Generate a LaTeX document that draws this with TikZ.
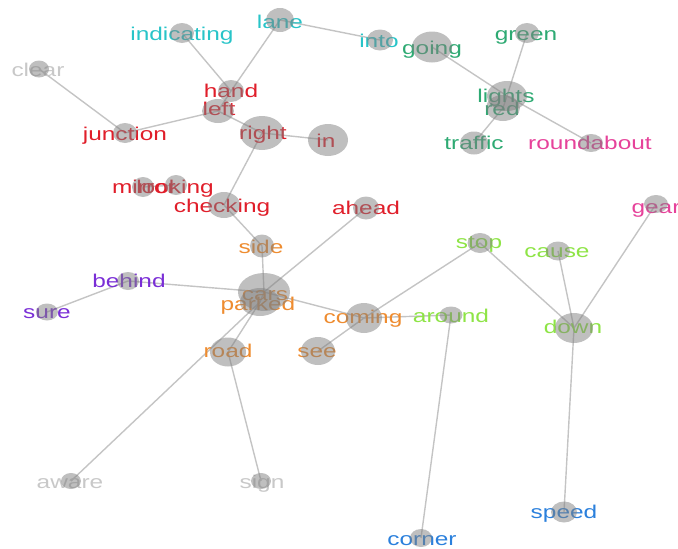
\documentclass[tikz,border=0pt]{standalone}
\usepackage{fontspec}
\setmainfont{Liberation Sans}[FakeStretch=1.32]
\usetikzlibrary{shapes.geometric}
\pgfdeclarelayer{edgelayer}
\pgfsetlayers{edgelayer,main}
\definecolor{cCyan}{RGB}{40,196,200}
\definecolor{cGreen}{RGB}{46,170,115}
\definecolor{cRed}{RGB}{224,30,42}
\definecolor{cOrange}{RGB}{238,140,48}
\definecolor{cPurple}{RGB}{122,46,214}
\definecolor{cLime}{RGB}{142,228,70}
\definecolor{cPink}{RGB}{230,66,154}
\definecolor{cBlue}{RGB}{43,128,220}
\definecolor{cGrayText}{RGB}{200,200,200}
\definecolor{edgegray}{RGB}{196,196,196}
\definecolor{blobgray}{RGB}{128,128,128}
\tikzset{
  lbl/.style={anchor=base, inner sep=0pt, font=\fontsize{18.5}{20}\selectfont},
  blob/.style={ellipse, fill=blobgray, fill opacity=0.5, draw=none, inner sep=0pt},
  edge/.style={draw=edgegray, line width=1.4pt},
}
\newcommand{\blobnode}[5]{\node[blob, minimum width=#4, minimum height=#5] (#1) at (#2,#3) {};}
\begin{document}
\begin{tikzpicture}[x=1pt,y=-1pt]
\useasboundingbox (0,0) rectangle (678,549);
% labels
\node[lbl,text=cGrayText] (t-clear) at (38,76) {clear};
\node[lbl,text=cCyan] (t-indicating) at (182,40.7) {indicating};
\node[lbl,text=cCyan] (t-lane) at (280,28) {lane};
\node[lbl,text=cCyan] (t-into) at (379,47) {into};
\node[lbl,text=cGreen] (t-going) at (432,54) {going};
\node[lbl,text=cGreen] (t-green) at (526,40) {green};
\node[lbl,text=cGreen] (t-red) at (502,115) {red};
\node[lbl,text=cGreen] (t-lights) at (506,102) {lights};
\node[lbl,text=cGreen] (t-traffic) at (474,149) {traffic};
\node[lbl,text=cPink] (t-roundabout) at (590,149) {roundabout};
\node[lbl,text=cRed] (t-left) at (219,115) {left};
\node[lbl,text=cRed] (t-hand) at (231,97) {hand};
\node[lbl,text=cRed] (t-junction) at (125,140) {junction};
\node[lbl,text=cRed] (t-right) at (263,139) {right};
\node[lbl,text=cRed] (t-in) at (326,147) {in};
\node[lbl,text=cRed] (t-mirror) at (144,193) {mirror};
\node[lbl,text=cRed] (t-looking) at (175,193) {looking};
\node[lbl,text=cRed] (t-checking) at (222,212) {checking};
\node[lbl,text=cRed] (t-ahead) at (366,214) {ahead};
\node[lbl,text=cOrange] (t-side) at (261,253) {side};
\node[lbl,text=cOrange] (t-cars) at (265,300) {cars};
\node[lbl,text=cOrange] (t-parked) at (258,310) {parked};
\node[lbl,text=cPurple] (t-behind) at (129,287) {behind};
\node[lbl,text=cPurple] (t-sure) at (47,318) {sure};
\node[lbl,text=cOrange] (t-road) at (228,357) {road};
\node[lbl,text=cOrange] (t-see) at (317,357) {see};
\node[lbl,text=cOrange] (t-coming) at (363,323) {coming};
\node[lbl,text=cLime] (t-stop) at (479,248) {stop};
\node[lbl,text=cLime] (t-cause) at (557,257) {cause};
\node[lbl,text=cPink] (t-gear) at (656,213) {gear};
\node[lbl,text=cLime] (t-around) at (451,322) {around};
\node[lbl,text=cLime] (t-down) at (573,333) {down};
\node[lbl,text=cGrayText] (t-aware) at (70,488) {aware};
\node[lbl,text=cGrayText] (t-sign) at (262,488) {sign};
\node[lbl,text=cBlue] (t-corner) at (422,545) {corner};
\node[lbl,text=cBlue] (t-speed) at (564,518) {speed};
% circles
\blobnode{clear}{39}{69}{20}{17}
\blobnode{indicating}{182}{33}{24}{20}
\blobnode{lane}{280}{20}{28}{24}
\blobnode{into}{380}{40}{26}{21}
\blobnode{going}{432}{47}{40}{31}
\blobnode{green}{527}{33}{24}{20}
\blobnode{lights}{507}{96}{40}{30}
\blobnode{red}{503}{108}{34}{26}
\blobnode{traffic}{474}{143}{28}{23}
\blobnode{roundabout}{591}{143}{24}{18}
\blobnode{hand}{231}{91}{26}{22}
\blobnode{left}{218}{111}{32}{24}
\blobnode{junction}{125}{133}{24}{20}
\blobnode{right}{262}{133}{44}{34}
\blobnode{in}{328}{140}{40}{32}
\blobnode{mirror}{143}{187}{22}{20}
\blobnode{looking}{176}{185}{22}{20}
\blobnode{checking}{224}{205}{32}{26}
\blobnode{ahead}{366}{208}{26}{23}
\blobnode{side}{262}{246}{24}{23}
\blobnode{cars}{264}{292}{52}{38}
\blobnode{parked}{260}{302}{40}{28}
\blobnode{behind}{128}{281}{22}{18}
\blobnode{sure}{47}{312}{22}{17}
\blobnode{coming}{364}{318}{36}{30}
\blobnode{road}{228}{352}{36}{29}
\blobnode{see}{318}{351}{34}{28}
\blobnode{stop}{480}{243}{25}{20}
\blobnode{cause}{558}{251}{24}{19}
\blobnode{gear}{656}{204}{24}{18}
\blobnode{around}{451}{315}{23}{17}
\blobnode{down}{574}{328}{38}{30}
\blobnode{aware}{71}{481}{20}{16}
\blobnode{sign}{261}{481}{20}{16}
\blobnode{corner}{421}{538}{22}{18}
\blobnode{speed}{564}{512}{26}{21}
% edges
\begin{pgfonlayer}{edgelayer}
\foreach \a/\b in {clear/junction, junction/left, indicating/hand, lane/hand, lane/into,
  going/lights, green/lights, red/traffic, lights/roundabout, left/right, right/in,
  right/checking, checking/side, side/cars, ahead/cars, behind/cars, sure/behind,
  cars/coming, parked/road, parked/aware, road/sign, coming/see, coming/stop, coming/around,
  around/corner, stop/down, cause/down, gear/down, down/speed, mirror/looking,
  hand/left, lights/red, cars/parked}
  \draw[edge] (\a.center) -- (\b.center);
\end{pgfonlayer}
\end{tikzpicture}
\end{document}
